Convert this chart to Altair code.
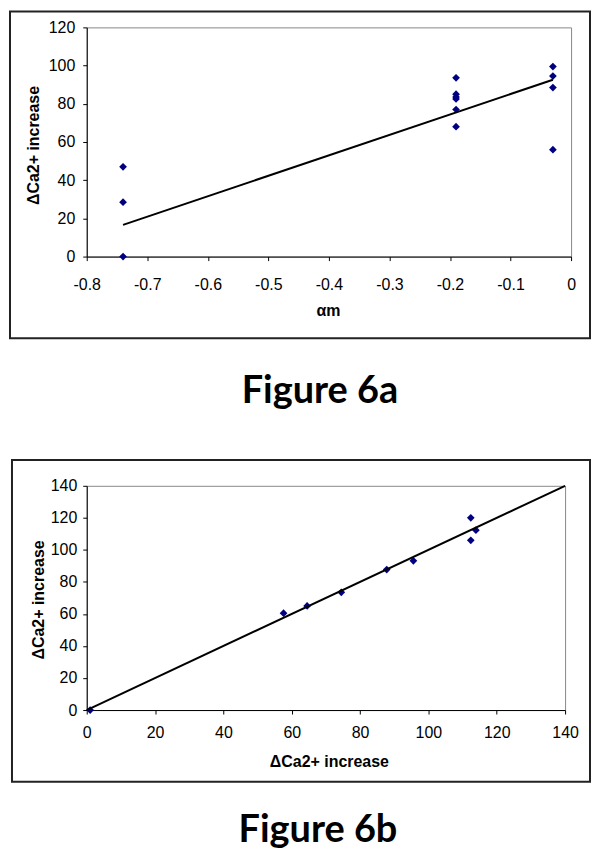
import altair as alt
import pandas as pd

# ---------------- Figure 6a data ----------------
a_x = [-0.74, -0.74, -0.74,
       -0.19, -0.19, -0.19, -0.19, -0.19, -0.19,
       -0.03, -0.03, -0.03, -0.03]
a_y = [47, 28.5, 0,
       93.6, 85, 83.5, 82.5, 77, 68,
       99.5, 94.5, 88.5, 56]
a_fit_x = [-0.74, -0.03]
a_fit_y = [16.6, 92.6]
a_xticks = [-0.8, -0.7, -0.6, -0.5, -0.4, -0.3, -0.2, -0.1, 0]
a_yticks = [0, 20, 40, 60, 80, 100, 120]

# ---------------- Figure 6b data ----------------
b_x = [1, 57.6, 64.5, 74.5, 87.8, 95.6, 112.4, 112.4, 113.9]
b_y = [0, 60.5, 65, 73.5, 87.7, 93.2, 120, 106, 112.3]
b_fit_x = [0, 140]
b_fit_y = [0, 140]
b_ticks = [0, 20, 40, 60, 80, 100, 120, 140]

title_a = "Figure 6a"
title_b = "Figure 6b"
y_title = "ΔCa2+ increase"
xa_title = "αm"
xb_title = "ΔCa2+ increase"

one = pd.DataFrame({"k": [0]})
NAVY = "#000080"


def panel(px, py, fx, fy, xdom, ydom, xticks, yticks, xtitle, w, h,
          xlab_pad, ylab_pad, xt, yt, spacer, frame, label, lx, ly, xexpr=None):
    pts = pd.DataFrame({"x": px, "y": py})
    fit = pd.DataFrame({"x": fx, "y": fy})
    xaxis_kw = dict(values=xticks, title=xtitle, tickSize=4, labelPadding=xlab_pad,
                    labelFlush=False, labelOverlap=False,
                    titleX=xt[0], titleY=xt[1], titleBaseline="alphabetic")
    if xexpr:
        xaxis_kw["labelExpr"] = xexpr
    xenc = alt.X("x:Q", scale=alt.Scale(domain=xdom, nice=False, zero=False),
                 axis=alt.Axis(**xaxis_kw))
    yenc = alt.Y("y:Q", scale=alt.Scale(domain=ydom, nice=False, zero=False),
                 axis=alt.Axis(values=yticks, title=y_title, tickSize=4,
                               labelPadding=ylab_pad, labelOverlap=False,
                               titleX=yt[0], titleY=yt[1], titleBaseline="alphabetic"))
    spacer_l = alt.Chart(one).mark_rect(opacity=0).encode(
        x=alt.value(spacer[0]), x2=alt.value(spacer[1]),
        y=alt.value(spacer[2]), y2=alt.value(spacer[3]))
    frame_l = alt.Chart(one).mark_rect(fill="white", fillOpacity=0, stroke="#222222",
                                       strokeWidth=2).encode(
        x=alt.value(frame[0]), x2=alt.value(frame[1]),
        y=alt.value(frame[2]), y2=alt.value(frame[3]))
    pts_l = alt.Chart(pts).mark_point(shape="diamond", filled=True, size=60,
                                      color=NAVY, opacity=1).encode(x=xenc, y=yenc)
    fit_l = alt.Chart(fit).mark_line(color="black", strokeWidth=2).encode(x=xenc, y=yenc)
    txt_l = alt.Chart(one).mark_text(text=label, font="Lato", fontWeight="bold",
                                     fontSize=38, align="center",
                                     baseline="alphabetic", color="black").encode(
        x=alt.value(lx), y=alt.value(ly))
    return alt.layer(spacer_l, frame_l, pts_l, fit_l, txt_l).properties(width=w, height=h)


# page coords: A plot origin (86, 25), B plot origin (86, 483); content kept in x 8..592
chart_a = panel(a_x, a_y, a_fit_x, a_fit_y, [-0.8, 0], [0, 120], a_xticks, a_yticks,
                xa_title, 486, 230, 16, 8, (242, 59), (-48, 118),
                (-78, 506, -17, 431), (-77, 505, -16, 312), title_a, 234, 377,
                xexpr="datum.value == 0 ? '0' : '' + round(datum.value * 10) / 10")

chart_b = panel(b_x, b_y, b_fit_x, b_fit_y, [0, 140], [0, 140], b_ticks, b_ticks,
                xb_title, 480, 225, 11, 6, (243, 57), (-43, 114),
                (-78, 506, -27, 363), (-75, 505, -26, 297), title_b, 232, 357)

chart = alt.vconcat(chart_a, chart_b, spacing=0, bounds="full",
                    padding=0, background="white").configure_view(
    stroke="#888888", strokeWidth=1
).configure_axis(
    domainColor="black", tickColor="black", labelColor="black", titleColor="black",
    labelFont="Liberation Sans", titleFont="Liberation Sans",
    labelFontSize=16, titleFontSize=16, titleFontWeight="bold",
    grid=False, domainWidth=1, tickWidth=1
)

chart.save("out.html", embed_options={"renderer": "svg", "actions": False})
